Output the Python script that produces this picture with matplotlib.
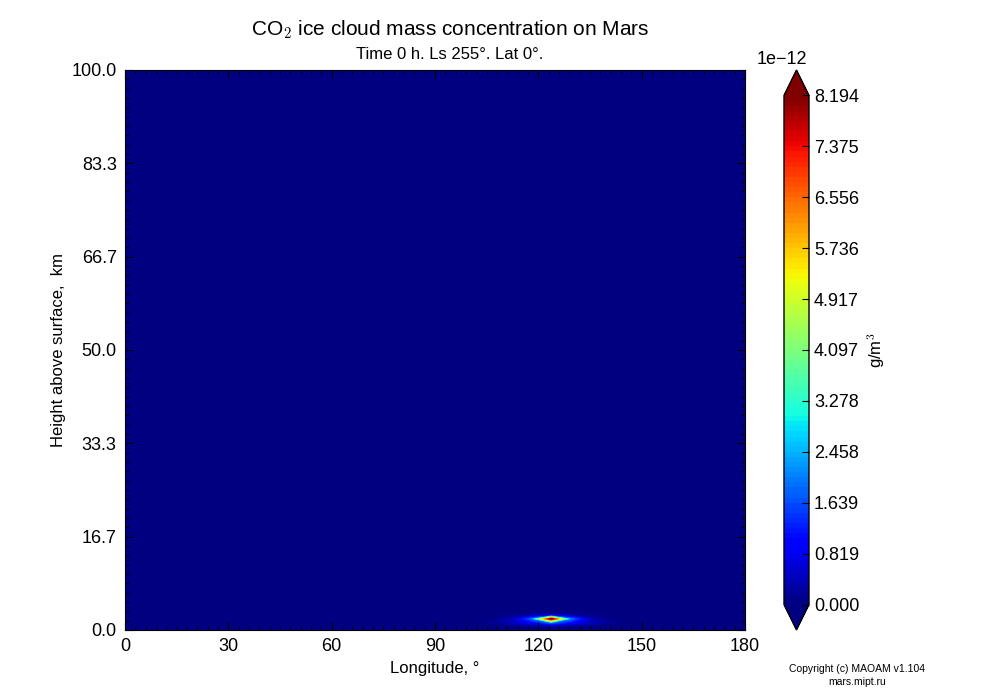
#
#  CO2 ice cloud mass concentration on Mars, longitude-height section
#
################################################################

import numpy as np
import matplotlib
matplotlib.use("Agg")
import matplotlib.pyplot as plt
from matplotlib.ticker import AutoMinorLocator, FuncFormatter

plt.rcParams['font.family'] = ['Liberation Sans', 'DejaVu Sans']
plt.rcParams['mathtext.fontset'] = 'cm'

#  data grid (longitude in degrees, height in km)
lons = [0.0, 101.25, 106.875, 112.5, 118.125, 123.75, 129.375, 135.0, 140.625, 146.25, 180.0]
heights = [0.0, 0.6, 1.3, 2.0, 2.6, 3.2, 100.0]

#  concentration, units of 1e-12 g/m^3 (rows = heights, cols = lons)
conc = [
    [0.0, 0.0, 0.0,  0.0,  0.0,  0.0,    0.0,  0.0,  0.0,  0.0, 0.0],
    [0.0, 0.0, 0.0,  0.0,  0.0,  0.0,    0.0,  0.0,  0.0,  0.0, 0.0],
    [0.0, 0.0, 0.15, 0.4,  0.9,  1.8,    1.0,  0.45, 0.15, 0.0, 0.0],
    [0.0, 0.0, 0.05, 0.4,  1.8,  8.1944, 1.9,  0.4,  0.05, 0.0, 0.0],
    [0.0, 0.0, 0.0,  0.1,  0.3,  0.6,    0.3,  0.1,  0.0,  0.0, 0.0],
    [0.0, 0.0, 0.0,  0.0,  0.0,  0.0,    0.0,  0.0,  0.0,  0.0, 0.0],
    [0.0, 0.0, 0.0,  0.0,  0.0,  0.0,    0.0,  0.0,  0.0,  0.0, 0.0],
]

vmax = 8.1944e-12
scale = 1e-12

lon = np.array(lons)
hgt = np.array(heights)
z = np.array(conc) * scale

fig = plt.figure(figsize=(10, 7), dpi=100)
ax = fig.add_axes([0.125, 0.1, 0.62, 0.8])
cax = fig.add_axes([0.784, 0.1, 0.025, 0.8])

levels = np.linspace(0, vmax, 101)
cs = ax.contourf(lon, hgt, z, levels=levels, cmap='jet', extend='both')

ax.set_xlim(0, 180)
ax.set_ylim(0, 100)
ax.set_xticks(np.arange(0, 181, 30))
ax.set_yticks(np.linspace(0, 100, 7))
ax.yaxis.set_major_formatter(FuncFormatter(lambda v, p: "%.1f" % v))
ax.xaxis.set_minor_locator(AutoMinorLocator(10))
ax.yaxis.set_minor_locator(AutoMinorLocator(10))
ax.tick_params(which='both', direction='in', top=True, right=True, labelsize=13)
ax.tick_params(which='major', length=6, pad=6)
ax.tick_params(which='minor', length=3)
ax.set_xlabel("Longitude, °", fontsize=12)
ax.set_ylabel("Height above surface,  km", fontsize=12)

cbar = fig.colorbar(cs, cax=cax, extend='both')
cbar.set_ticks(np.linspace(0, vmax, 11))
cbar.ax.yaxis.set_major_formatter(FuncFormatter(lambda v, p: "%.3f" % (v / scale)))
cbar.ax.tick_params(labelsize=13, direction='in', length=5)
cbar.set_label("g/m$^3$", fontsize=12)
cbar.outline.set_linewidth(1.0)
fig.text(0.782, 0.903, "1e\u221212", fontsize=13, ha='center', va='bottom')

fig.text(0.45, 0.957, "CO$_2$ ice cloud mass concentration on Mars",
         fontsize=15, ha='center', va='center')
fig.text(0.45, 0.922, "Time 0 h. Ls 255°. Lat 0°.", fontsize=12,
         ha='center', va='center')

fig.text(0.857, 0.044, "Copyright (c) MAOAM v1.104", fontsize=7.5, ha='center', va='center')
fig.text(0.857, 0.026, "mars.mipt.ru", fontsize=7.5, ha='center', va='center')

plt.savefig("out.png", dpi=100)
